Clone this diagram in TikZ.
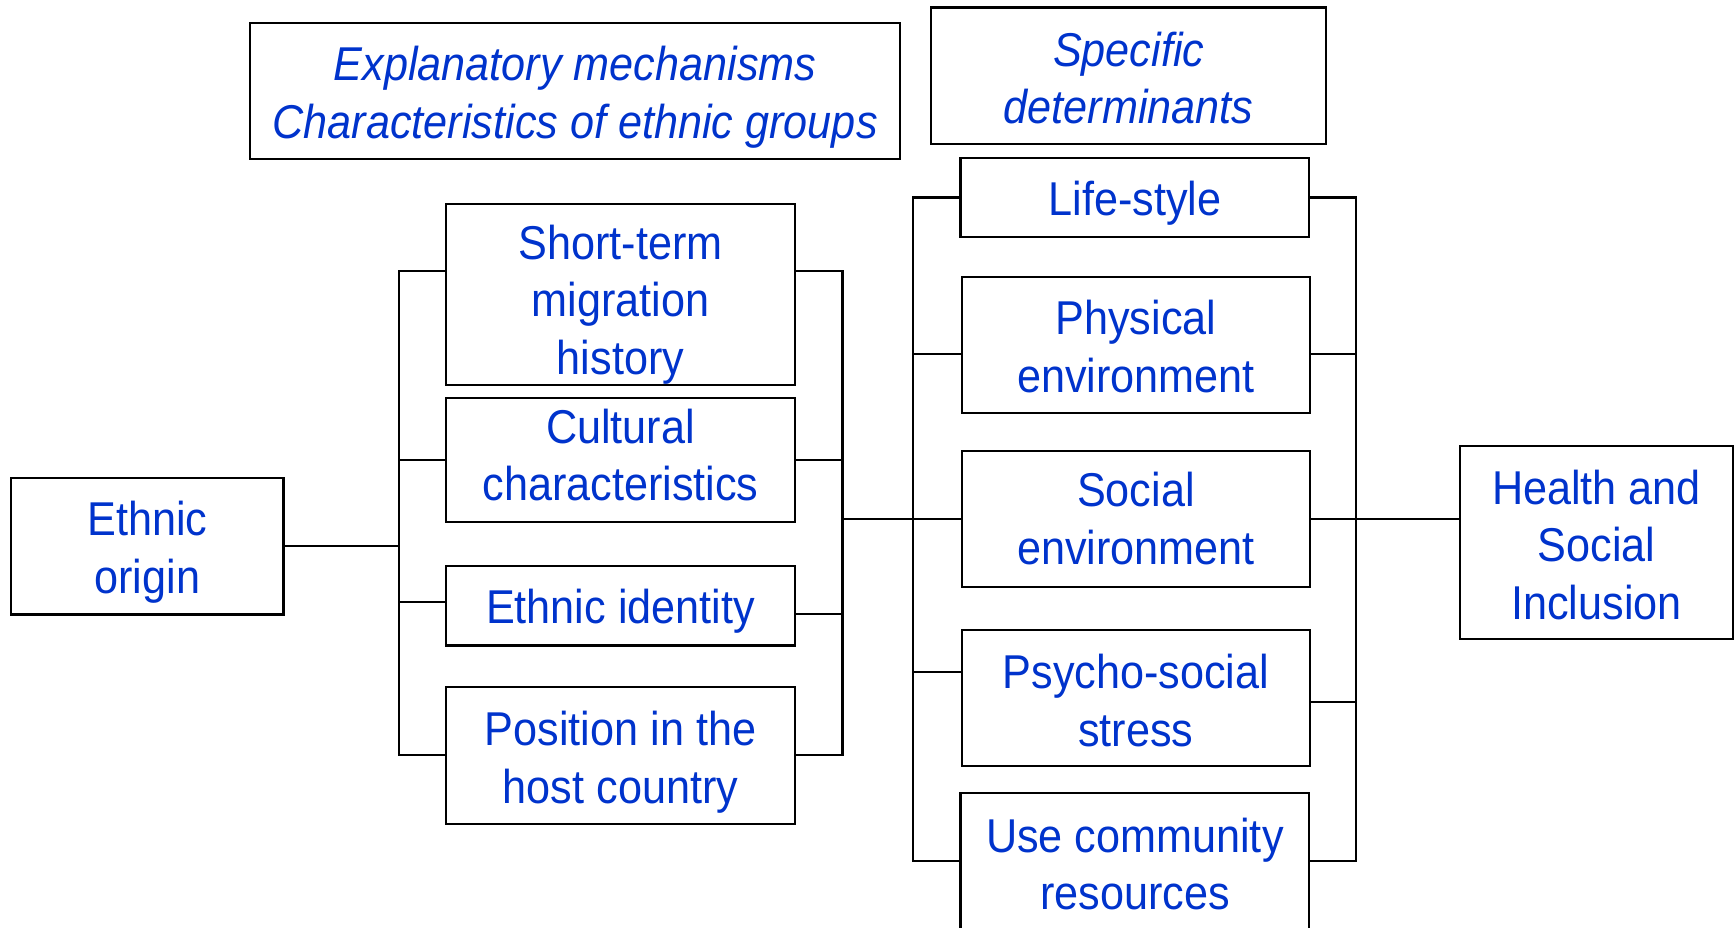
\documentclass[tikz,border=0pt]{standalone}
\usepackage{fontspec}
\setmainfont{Liberation Sans}[FakeStretch=0.91]
\usepackage{tikz}
\usetikzlibrary{shapes,arrows}
\definecolor{inkblue}{RGB}{0,51,204}
\tikzstyle{factorbox} = [draw=black, line width=0.55pt, rectangle, inner sep=0pt, align=center, text=inkblue, font=\fontsize{12.2}{14.8}\selectfont, minimum width=3.15cm]
\tikzstyle{headbox} = [factorbox, font=\fontsize{12.2}{14.8}\selectfont\itshape]
\tikzstyle{link} = [line width=0.55pt]
\tikzset{textdrop/.style={execute at begin node={\rule{0pt}{#1}}},
         textlift/.style={execute at end node={\rule[-#1]{0pt}{0pt}}}}

\begin{document}
\begin{tikzpicture}
\useasboundingbox (0,0) rectangle (15.68,-8.38);
\clip (0,0) rectangle (15.68,-8.38);
% titoli
\node [headbox, textdrop=27.1pt, minimum width=5.87cm, minimum height=1.23cm] (expl) at (5.195,-0.82) {Explanatory mechanisms\\Characteristics of ethnic groups};
\node [headbox, textdrop=24.8pt, minimum width=3.57cm, minimum height=1.23cm] (spec) at (10.195,-0.683) {Specific\\determinants};
% colonna sinistra
\node [factorbox, textdrop=26.8pt, minimum width=2.46cm, minimum height=1.23cm] (origin) at (1.33,-4.935) {Ethnic\\origin};
\node [factorbox, textdrop=43.6pt, minimum height=1.64cm] (short) at (5.605,-2.66) {Short-term\\migration\\history};
\node [factorbox, textlift=2.8pt, minimum height=1.12cm] (cult) at (5.605,-4.156) {Cultural\\characteristics};
\node [factorbox, textdrop=11.7pt, minimum height=0.72cm] (ident) at (5.605,-5.47) {Ethnic identity};
\node [factorbox, textdrop=27.1pt, minimum height=1.234cm] (pos) at (5.605,-6.823) {Position in the\\host country};
% determinanti
\node [factorbox, textdrop=11.7pt, minimum height=0.715cm] (life) at (10.25,-1.784) {Life-style};
\node [factorbox, textdrop=24.5pt, minimum height=1.23cm] (phys) at (10.26,-3.115) {Physical\\environment};
\node [factorbox, minimum height=1.23cm] (soc) at (10.26,-4.685) {Social\\environment};
\node [factorbox, textdrop=24.8pt, minimum height=1.23cm] (psy) at (10.26,-6.305) {Psycho-social\\stress};
\node [factorbox, textdrop=25.4pt, minimum height=1.23cm] (use) at (10.25,-7.775) {Use community\\resources};
\node [factorbox, textdrop=39.6pt, minimum width=2.46cm, minimum height=1.74cm] (health) at (14.42,-4.90) {Health and\\Social\\Inclusion};
% parentesi sinistra
\coordinate (lb) at (3.60,-2.45);
\draw[link] (short.west |- lb) -- (lb) -- (lb |- pos.west) -- (pos.west);
\draw[link] (cult.west) -- (cult.west -| lb);
\draw[link] ([yshift=0.03cm]ident.west) -- ([yshift=0.03cm]ident.west -| lb);
\draw[link] (origin.east) -- (origin.east -| lb);
\coordinate (rb) at (7.61,-2.45);
\draw[link] (short.east |- rb) -- (rb) -- (rb |- pos.east) -- (pos.east);
\draw[link] (cult.east) -- (cult.east -| rb);
\draw[link] ([yshift=-0.077cm]ident.east) -- ([yshift=-0.077cm]ident.east -| rb);
\draw[link] (rb |- soc.west) -- (soc.west);
% parentesi destra
\coordinate (dl) at (8.25,-1.784);
\draw[link] (life.west) -- (dl) -- (dl |- use.west) -- (use.west);
\draw[link] ([yshift=-0.085cm]phys.west) -- ([yshift=-0.085cm]phys.west -| dl);
\draw[link] ([yshift=0.235cm]psy.west) -- ([yshift=0.235cm]psy.west -| dl);
\coordinate (dr) at (12.25,-1.784);
\draw[link] (life.east) -- (dr) -- (dr |- use.east) -- (use.east);
\draw[link] ([yshift=-0.085cm]phys.east) -- ([yshift=-0.085cm]phys.east -| dr);
\draw[link] ([yshift=-0.035cm]psy.east) -- ([yshift=-0.035cm]psy.east -| dr);
\draw[link] (soc.east) -- (soc.east -| health.west);
\end{tikzpicture}
\end{document}
